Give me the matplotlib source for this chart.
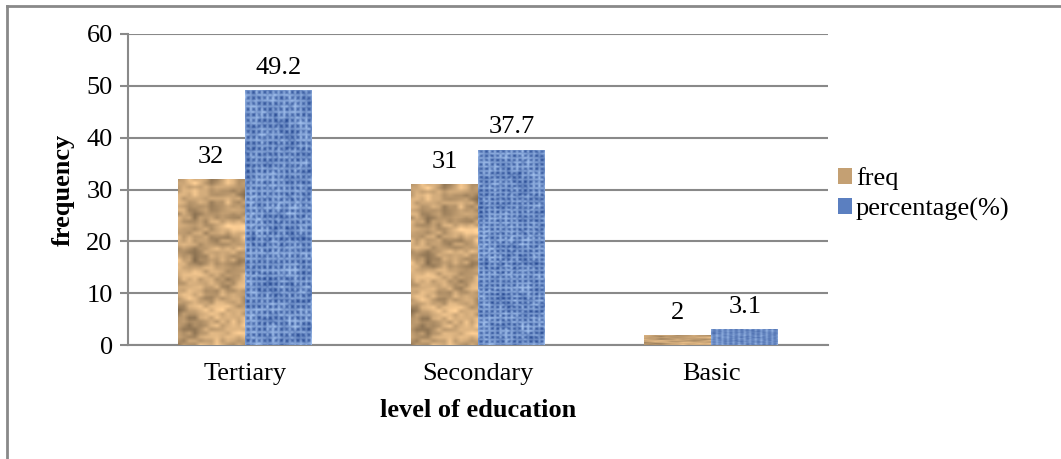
import matplotlib
matplotlib.use("Agg")
import matplotlib.pyplot as plt
from matplotlib.lines import Line2D
from matplotlib.patches import Patch
import numpy as np

plt.rcParams['font.family'] = ['Liberation Serif', 'DejaVu Serif']

categories = ["Tertiary", "Secondary", "Basic"]
freq = [32, 31, 2]
percentage = [49.2, 37.7, 3.1]
series_names = ["freq", "percentage(%)"]
y_ticks = [0, 10, 20, 30, 40, 50, 60]

grey = "#898989"
fs = 19


def smooth_noise(shape, cell, seed):
    # blocky noise upsampled -> soft blotches (only for the bar texture)
    rng = np.random.default_rng(seed)
    h, w = shape
    small = rng.random((h // cell + 2, w // cell + 2))
    yy = np.linspace(0, small.shape[0] - 1.001, h)
    xx = np.linspace(0, small.shape[1] - 1.001, w)
    y0 = yy.astype(int); x0 = xx.astype(int)
    fy = (yy - y0)[:, None]; fx = (xx - x0)[None, :]
    a = small[y0][:, x0]; b = small[y0][:, x0 + 1]
    c = small[y0 + 1][:, x0]; d = small[y0 + 1][:, x0 + 1]
    return (a * (1 - fx) + b * fx) * (1 - fy) + (c * (1 - fx) + d * fx) * fy


def paper_texture(h=300, w=80):
    n = 0.6 * smooth_noise((h, w), 22, 1) + 0.4 * smooth_noise((h, w), 7, 2)
    base = np.array([196, 160, 115]) / 255
    shade = (n - 0.5) * 0.75
    return np.clip(base[None, None, :] * (1 + shade[..., None]), 0, 1)


def weave_texture(h=300, w=80):
    n = 0.5 * smooth_noise((h, w), 3, 3) + 0.5 * smooth_noise((h, w), 10, 4)
    yy, xx = np.mgrid[0:h, 0:w]
    grid = np.maximum(np.cos(xx * 0.95), np.cos(yy * 0.95))
    v = np.clip(0.55 * n + 0.45 * (grid * 0.5 + 0.5), 0, 1) ** 1.3
    dark = np.array([30, 65, 140]) / 255
    light = np.array([180, 210, 250]) / 255
    img = dark[None, None, :] * (1 - v[..., None]) + light[None, None, :] * v[..., None]
    return np.clip(img, 0, 1)


fig = plt.figure(figsize=(10.61, 4.59), dpi=100)
ax = fig.add_axes([128 / 1061, 1 - 345 / 459, 700 / 1061, 311 / 459])

x = np.arange(len(categories))
w = 0.287
bars1 = ax.bar(x - w / 2, freq, w, color="#C4A073", zorder=2)
bars2 = ax.bar(x + w / 2, percentage, w, color="#5B7FC0", zorder=2)

tex1 = paper_texture()
tex2 = weave_texture()
for bars, tex in ((bars1, tex1), (bars2, tex2)):
    for b in bars:
        x0, bw, bh = b.get_x(), b.get_width(), b.get_height()
        im = ax.imshow(tex, extent=(x0, x0 + bw, 0, bh), aspect="auto",
                       zorder=3, interpolation="bilinear")
        im.set_clip_path(b)

for bars, vals in ((bars1, freq), (bars2, percentage)):
    for b, v in zip(bars, vals):
        ax.annotate(f"{v:g}", (b.get_x() + b.get_width() / 2, b.get_height()),
                    xytext=(0, 8), textcoords="offset points",
                    ha="center", va="bottom", fontsize=fs, color="black")

ax.set_xlim(-0.5, len(categories) - 0.5)
ax.set_ylim(0, 60)
ax.set_yticks(y_ticks)
ax.set_xticks(x)
ax.set_xticklabels(categories)
ax.tick_params(axis="y", length=6, width=1.5, color=grey, labelsize=fs, pad=5)
ax.tick_params(axis="x", length=0, labelsize=fs, pad=13)
ax.yaxis.grid(True, color=grey, linewidth=1.5, zorder=0)
ax.set_axisbelow(True)
for s in ("top", "right"):
    ax.spines[s].set_visible(False)
for s in ("left", "bottom"):
    ax.spines[s].set_color(grey)
    ax.spines[s].set_linewidth(1.5)

ax.set_ylabel("frequency", fontsize=fs, fontweight="bold", labelpad=8)
ax.set_xlabel("level of education", fontsize=fs, fontweight="bold", labelpad=10)

handles = [Patch(facecolor="#C4A073", edgecolor="none"),
           Patch(facecolor="#5B7FC0", edgecolor="none")]
fig.legend(handles, series_names, loc="center left",
           bbox_to_anchor=(827 / 1061, 1 - 194 / 459), frameon=False,
           fontsize=fs, handlelength=0.55, handleheight=0.55,
           handletextpad=0.15, labelspacing=0.3, borderaxespad=0)

# outer chart frame (only top and left edges fall inside the picture)
fig.add_artist(Line2D([6.5 / 1061, 6.5 / 1061], [0, 1 - 5.5 / 459],
                      transform=fig.transFigure, color=grey, lw=2))
fig.add_artist(Line2D([6.5 / 1061, 1], [1 - 5.5 / 459, 1 - 5.5 / 459],
                      transform=fig.transFigure, color=grey, lw=2))

fig.savefig("out.png", dpi=100)
